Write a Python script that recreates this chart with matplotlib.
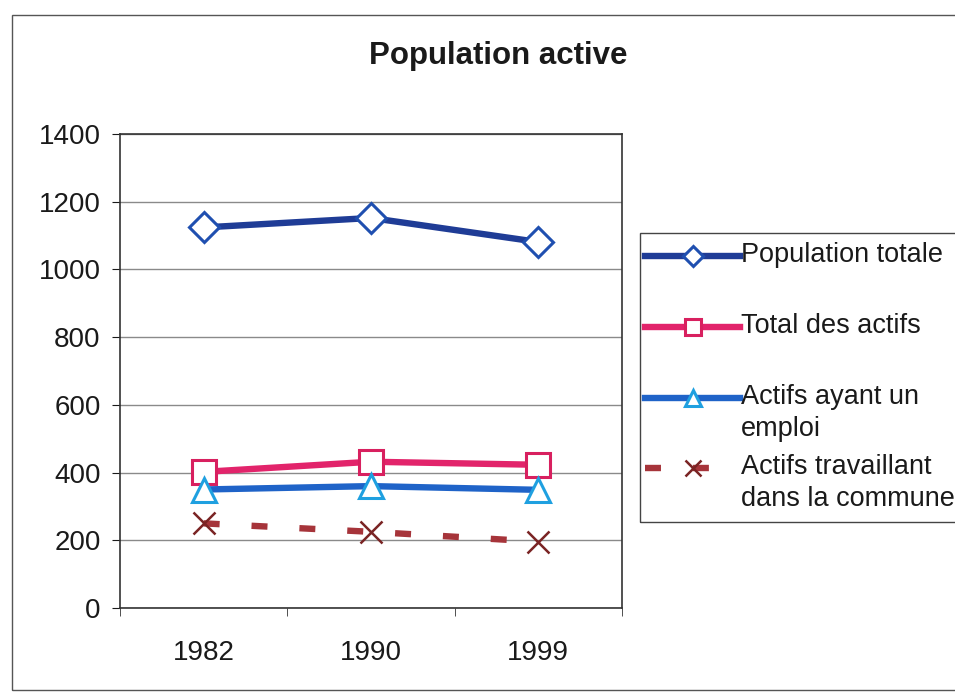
import matplotlib
matplotlib.use("Agg")
import matplotlib.pyplot as plt
from matplotlib.patches import Rectangle
from matplotlib.lines import Line2D
from matplotlib.ticker import FixedLocator

plt.rcParams['font.family'] = ['Liberation Sans', 'DejaVu Sans']

# Data
years = ["1982", "1990", "1999"]
population_totale = [1124, 1152, 1081]
total_actifs = [402, 432, 423]
actifs_emploi = [350, 360, 349]
actifs_commune = [250, 225, 196]

series_labels = [
    "Population totale",
    "Total des actifs",
    "Actifs ayant un\nemploi",
    "Actifs travaillant\ndans la commune",
]

W, H = 955, 694
fig = plt.figure(figsize=(W / 100, H / 100), dpi=100)
fig.patch.set_facecolor("white")


def fx(px):
    return px / W


def fy(py):
    return 1 - py / H


# Outer chart frame
fig.patches.append(Rectangle((fx(12), fy(690)), 1.0, (690 - 15) / H,
                             transform=fig.transFigure, fill=False,
                             edgecolor="#555555", linewidth=1.0, zorder=0))

ax = fig.add_axes([fx(120), fy(608), (622 - 120) / W, (608 - 134) / H])

x = list(range(len(years)))

styles = [
    dict(color="#1f3c96", marker="D", markersize=15, markerfacecolor="white",
         markeredgecolor="#1f4fb0", markeredgewidth=2.2),
    dict(color="#e2246b", marker="s", markersize=17, markerfacecolor="white",
         markeredgecolor="#d8205f", markeredgewidth=2.2),
    dict(color="#1f63c8", marker="^", markersize=17, markerfacecolor="white",
         markeredgecolor="#1fa0e0", markeredgewidth=2.2),
    dict(color="#a6343a", linestyle=(0, (2.5, 5.0)), dash_capstyle="butt",
         marker="x", markersize=16, markeredgecolor="#7a2424",
         markeredgewidth=1.8),
]
series = [population_totale, total_actifs, actifs_emploi, actifs_commune]
zorders = [4, 4, 5, 4]

for vals, st, lab, z in zip(series, styles, series_labels, zorders):
    ax.plot(x, vals, linewidth=4.6, label=lab, zorder=z, **st)

ax.set_xlim(-0.5, 2.5)
ax.set_ylim(0, 1400)
ax.set_yticks(range(0, 1401, 200))
ax.set_xticks(x)
ax.set_xticklabels(years)
ax.xaxis.set_minor_locator(FixedLocator([-0.5, 0.5, 1.5, 2.5]))

ax.tick_params(axis="x", which="major", length=0, pad=23, labelsize=20,
               colors="#1a1a1a")
ax.tick_params(axis="x", which="minor", length=6, direction="out",
               color="#333333")
ax.tick_params(axis="y", length=6, direction="out", pad=8, labelsize=20,
               colors="#1a1a1a")

ax.grid(axis="y", color="#8a8a8a", linewidth=1.0)
ax.set_axisbelow(True)
for side in ["left", "right", "top", "bottom"]:
    ax.spines[side].set_color("#333333")
    ax.spines[side].set_linewidth(1.2)

fig.text(fx(498), fy(56), "Population active", ha="center",
         va="center", fontsize=22.5, fontweight="bold", color="#1a1a1a")

# Legend box, drawn by hand so that each handle sits beside the first text line
fig.patches.append(Rectangle((fx(640), fy(522)), 1.0, (522 - 233) / H,
                             transform=fig.transFigure, fill=False,
                             edgecolor="#444444", linewidth=1.0, zorder=1))
handle_y = [256, 327, 398, 468]
for st, lab, hy in zip(styles, series_labels, handle_y):
    lst = dict(st)
    lst["markersize"] = st["markersize"] * 0.7
    fig.lines.append(Line2D([fx(645), fx(740)], [fy(hy), fy(hy)],
                            transform=fig.transFigure, linewidth=4.6,
                            **{k: v for k, v in lst.items()
                               if not k.startswith("marker")}))
    fig.lines.append(Line2D([fx(693)], [fy(hy)], transform=fig.transFigure,
                            linestyle="none",
                            **{k: v for k, v in lst.items()
                               if k.startswith("marker")}))
    fig.text(fx(741), fy(hy - 14), lab, ha="left", va="top", fontsize=19.5,
             color="#1a1a1a", linespacing=1.3)

fig.savefig("out.png", dpi=100, facecolor="white")
